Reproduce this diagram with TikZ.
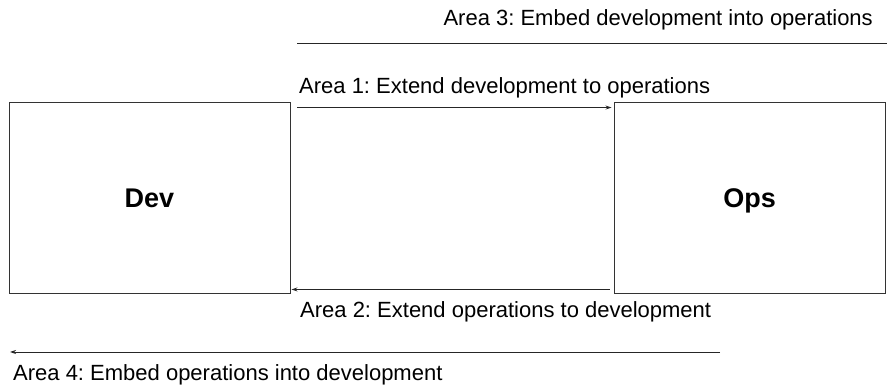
\documentclass[tikz,border=0pt]{standalone}
\usepackage{fontspec}
\setmainfont{Liberation Sans}
\usetikzlibrary{arrows.meta}
\frenchspacing
\begin{document}
\begin{tikzpicture}[x=1pt,y=-1pt,
  box/.style={draw=black!80,line width=0.9pt,inner sep=0pt,text height=19.3pt,text depth=0pt,font=\fontsize{27}{30}\selectfont\bfseries},
  lbl/.style={inner sep=0pt,font=\fontsize{22}{26}\selectfont},
  conn/.style={line width=0.9pt,draw=black!85},
  arr/.style={conn,-{Stealth[length=6pt,width=4pt]}}]
\useasboundingbox (0,0) rectangle (887,387);
\node[box,minimum width=281pt,minimum height=191pt] (dev) at (149.5,197.5) {Dev};
\node[box,minimum width=271pt,minimum height=191pt] (ops) at (749.5,197.5) {Ops};
\coordinate (a3s) at (297,43);
\coordinate (a3e) at (887,43);
\coordinate (a4s) at (720,352);
\coordinate (a4e) at (10,352);
\draw[conn] (a3s) -- (a3e);
\draw[arr] ([xshift=7pt,yshift=-6pt]dev.north east) -- ([xshift=-2pt,yshift=-6pt]ops.north west);
\draw[arr] ([xshift=-4pt,yshift=4pt]ops.south west) -- ([xshift=1pt,yshift=4pt]dev.south east);
\draw[arr] (a4s) -- (a4e);
\node[lbl,anchor=base east] (l3) at (873,26) {Area 3: Embed development into operations};
\node[lbl,anchor=base west] (l1) at (299,94) {Area 1: Extend development to operations};
\node[lbl,anchor=base west] (l2) at (300,318) {Area 2: Extend operations to development};
\node[lbl,anchor=base west] (l4) at (13,381) {Area 4: Embed operations into development};
\end{tikzpicture}
\end{document}
